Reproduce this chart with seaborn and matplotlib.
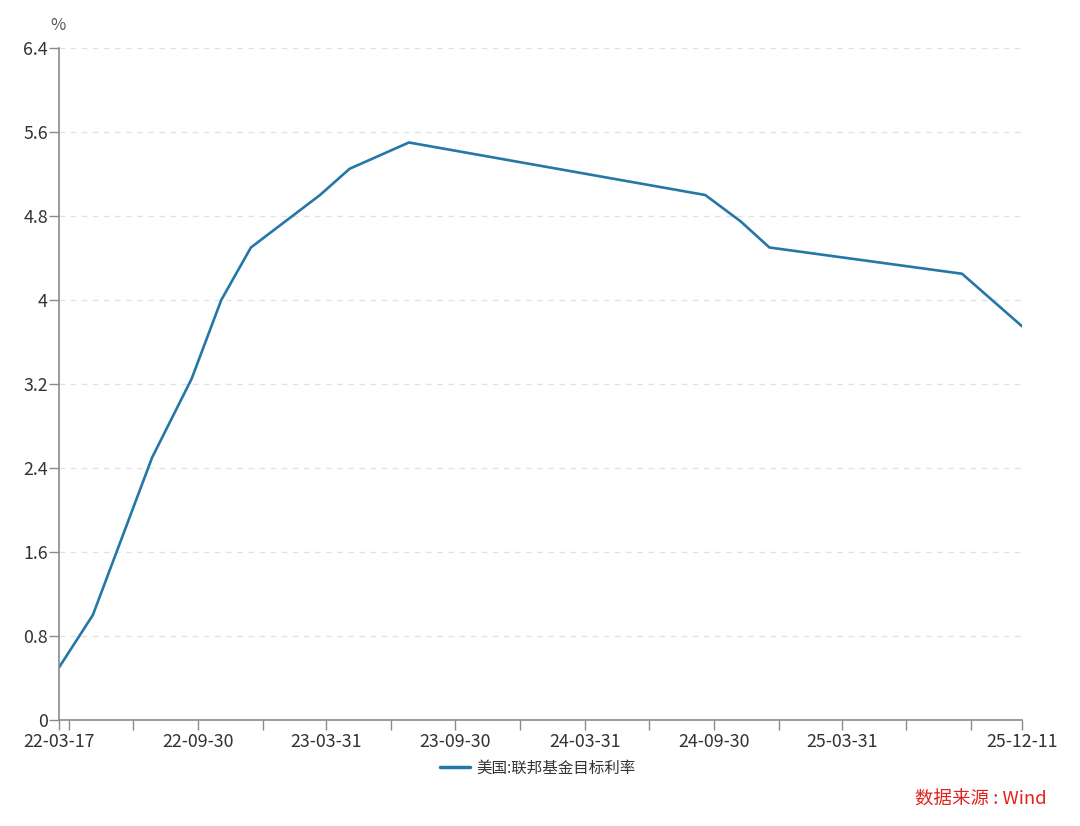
import numpy as np
import pandas as pd
import matplotlib
matplotlib.use("Agg")
import matplotlib.pyplot as plt
import matplotlib.dates as mdates
import seaborn as sns

# data: vertices of the line
dates = [
    "2022-03-17", "2022-05-04", "2022-07-27", "2022-09-21", "2022-11-02",
    "2022-12-14", "2023-03-22", "2023-05-03", "2023-07-26", "2024-09-18",
    "2024-11-07", "2024-12-18", "2025-09-17", "2025-12-11",
]
rates = [0.5, 1.0, 2.5, 3.25, 4.0, 4.5, 5.0, 5.25, 5.5, 5.0, 4.75, 4.5, 4.25, 3.75]
series_name = "美国:联邦基金目标利率"

# x axis ticks (quarter ends plus both ends) and their labels
tick_dates = [
    "2022-03-17", "2022-03-31", "2022-06-30", "2022-09-30", "2022-12-31",
    "2023-03-31", "2023-06-30", "2023-09-30", "2023-12-31", "2024-03-31",
    "2024-06-30", "2024-09-30", "2024-12-31", "2025-03-31", "2025-06-30",
    "2025-09-30", "2025-12-11",
]
tick_labels = [
    "22-03-17", "", "", "22-09-30", "", "23-03-31", "", "23-09-30", "",
    "24-03-31", "", "24-09-30", "", "25-03-31", "", "", "25-12-11",
]
y_ticks = [0, 0.8, 1.6, 2.4, 3.2, 4, 4.8, 5.6, 6.4]

df = pd.DataFrame({"date": pd.to_datetime(dates), "rate": rates})

sns.set_theme(style="white")
plt.rcParams["font.family"] = ["Noto Sans CJK SC", "DejaVu Sans"]

LINE = "#2577a6"
AXIS = "#8a8a8a"
TEXT = "#333333"

fig = plt.figure(figsize=(10.8, 8.26), dpi=100)
ax = fig.add_axes([59 / 1080, 106 / 826, 963 / 1080, 672 / 826])

# grid
for v in y_ticks[1:]:
    ax.axhline(v, color="#e2e2e2", linewidth=1, linestyle=(0, (4, 4)), zorder=0)

sns.lineplot(data=df, x="date", y="rate", ax=ax, color=LINE, linewidth=1.9,
             label=series_name, legend=False)

ax.set_xlim(pd.Timestamp(tick_dates[0]), pd.Timestamp(tick_dates[-1]))
ax.set_ylim(0, 6.4)
ax.set_xlabel("")
ax.set_ylabel("")

ax.set_xticks(pd.to_datetime(tick_dates))
ax.set_xticklabels(tick_labels)
ax.set_yticks(y_ticks)
ax.set_yticklabels([f"{v:g}" for v in y_ticks])

for s in ["top", "right"]:
    ax.spines[s].set_visible(False)
for s in ["left", "bottom"]:
    ax.spines[s].set_color(AXIS)
    ax.spines[s].set_linewidth(1.2)

ax.tick_params(axis="x", direction="out", length=7.5, width=1, color=AXIS,
               pad=2, labelsize=12.8, labelcolor=TEXT, bottom=True)
ax.tick_params(axis="y", direction="out", length=7, width=1, color=AXIS,
               pad=1, labelsize=12.8, labelcolor=TEXT, left=True)

fig.text(58 / 1080, 1 - 25 / 826, "%", ha="center", va="center",
         fontsize=12, color="#555555")

handle = plt.Line2D([], [], color=LINE, linewidth=2.5)
fig.legend([handle], [series_name], loc="center", bbox_to_anchor=(538 / 1080, 1 - 768 / 826),
           frameon=False, fontsize=11.2, handlelength=1.9, handletextpad=0.45,
           labelcolor=TEXT)

fig.text(1047 / 1080, 1 - 800 / 826, "数据来源 : Wind", ha="right", va="center",
         fontsize=13.3, color="#e0231d")

fig.savefig("out.png", dpi=100)
